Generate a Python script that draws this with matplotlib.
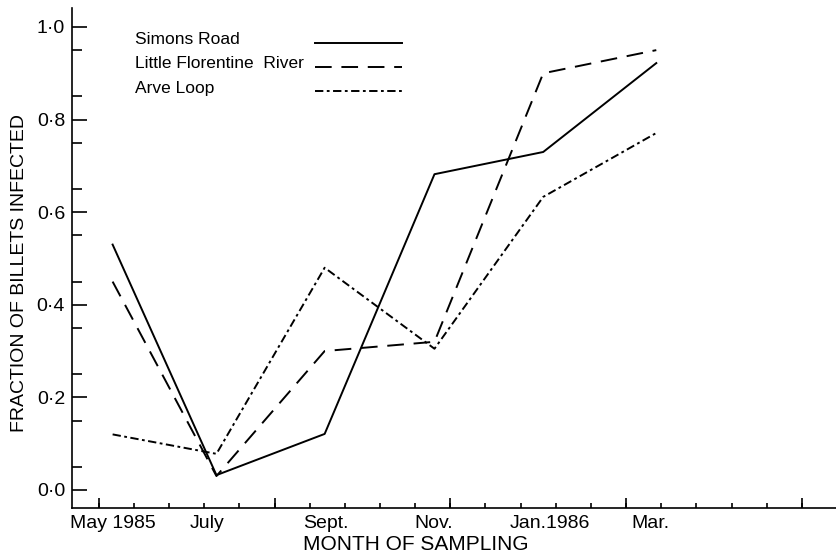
import numpy as np
import matplotlib.pyplot as plt

plt.rcParams['font.family'] = ['Liberation Sans', 'DejaVu Sans']
plt.rcParams['lines.scale_dashes'] = False

# sampling times, months after May 1985
sample_month = [0.0, 1.91, 3.90, 5.92, 7.92, 10.0]
month_labels = ["May 1985", "July", "Sept.", "Nov.", "Jan.1986", "Mar."]

simons_road = [0.53, 0.032, 0.121, 0.682, 0.730, 0.922]
little_florentine = [0.45, 0.03, 0.30, 0.32, 0.90, 0.95]
arve_loop = [0.12, 0.078, 0.48, 0.305, 0.633, 0.771]

series_names = ["Simons Road", "Little Florentine  River", "Arve Loop"]

y_major = [0.0, 0.2, 0.4, 0.6, 0.8, 1.0]
y_labels = ["0\u00b70", "0\u00b72", "0\u00b74", "0\u00b76", "0\u00b78", "1\u00b70"]

dashed = (0, (12, 7))
dashdot = (0, (6, 2.5, 2, 2.5))

fig = plt.figure(figsize=(8.37, 5.56), dpi=100)
ax = fig.add_axes([72 / 837, 48 / 556, 765 / 837, 500 / 556])

lw = 1.4
ax.plot(sample_month, simons_road, color='black', lw=lw, linestyle='-')
ax.plot(sample_month, little_florentine, color='black', lw=lw, linestyle=dashed)
ax.plot(sample_month, arve_loop, color='black', lw=lw, linestyle=dashdot)

ax.set_xlim(-0.747, 13.19)
ax.set_ylim(-0.039, 1.041)

for s in ['top', 'right']:
    ax.spines[s].set_visible(False)
for s in ['left', 'bottom']:
    ax.spines[s].set_linewidth(1.2)

# y ticks
ax.set_yticks(y_major, y_labels)
ax.set_yticks(np.arange(0.05, 1.0, 0.1), minor=True)
ax.tick_params(axis='y', which='major', direction='in', length=11, width=1.2, pad=5, labelsize=14)
ax.tick_params(axis='y', which='minor', direction='in', length=7, width=1.2)

# x ticks: month labels with no marks, plus the small marks along the axis
label_pos = [0.0, 1.73, 3.92, 5.9, 8.05, 9.9]
ax.set_xticks(label_pos, month_labels)
ax.tick_params(axis='x', which='major', length=0, pad=5, labelsize=14)
tick_marks = -0.255 + 0.6466 * np.arange(22)
ax.set_xticks(tick_marks, minor=True)
ax.tick_params(axis='x', which='minor', direction='in', length=3.6, width=1.2)
sec = ax.secondary_xaxis('bottom')
sec.set_xticks(tick_marks[::5], [''] * len(tick_marks[::5]))
sec.tick_params(direction='in', length=7.2, width=1.2)
sec.spines['bottom'].set_visible(False)

ax.set_ylabel("FRACTION OF BILLETS INFECTED", fontsize=14, va='center')
ax.set_xlabel("MONTH OF SAMPLING", fontsize=15, va='center')
ax.xaxis.set_label_coords((416 - 72) / 765, -(545 - 508) / 500)
ax.yaxis.set_label_coords((19 - 72) / 765, (508 - 273) / 500)

# legend, drawn by hand: names on the left, line samples on the right
text_y = [0.937, 0.889, 0.84]
for name, ls, ty in zip(series_names, ['-', dashed, dashdot], text_y):
    ax.text(0.0824, ty, name, transform=ax.transAxes, fontsize=12.5, va='center', ha='left')
    ax.plot([0.318, 0.431], [ty - 0.006, ty - 0.006], transform=ax.transAxes,
            color='black', lw=lw, linestyle=ls, clip_on=False)

fig.savefig("out.png", dpi=100)
